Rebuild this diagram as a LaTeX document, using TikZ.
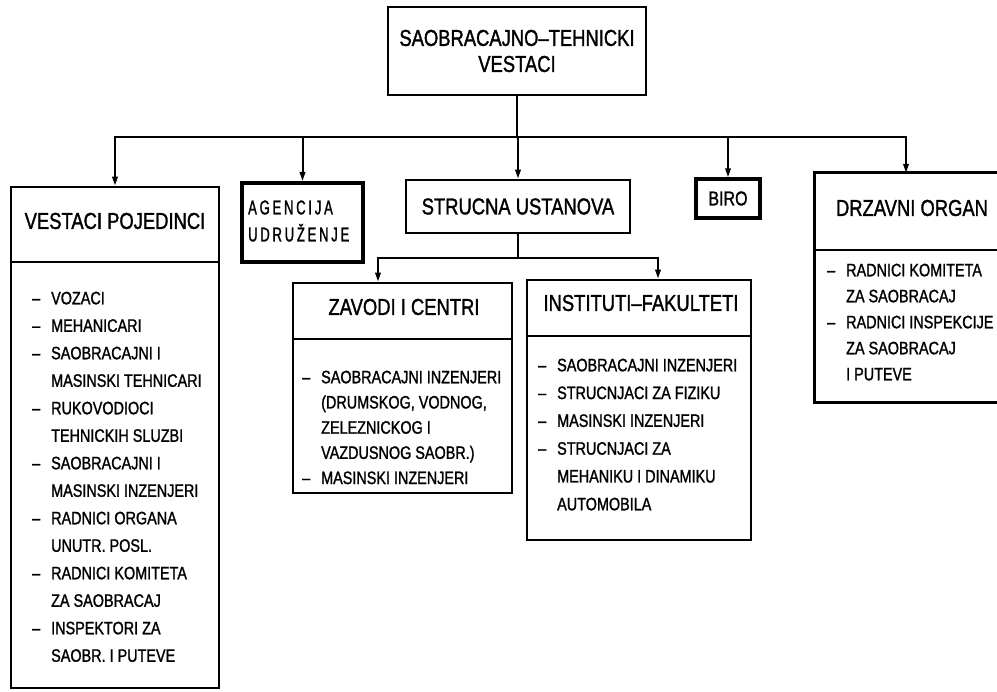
\documentclass[tikz,border=0pt]{standalone}
\usepackage{fontspec}
\setmainfont[FakeStretch=0.8,FakeBold=1.3]{Liberation Sans}
\newfontfamily\agfont[FakeStretch=0.65,LetterSpace=14,FakeBold=1.3]{Liberation Sans}
\usetikzlibrary{arrows.meta}
\newlength{\dashw}
\setlength{\dashw}{19pt}
\newcommand{\ditem}[1]{\makebox[\dashw][l]{–}#1}
\newcommand{\dcont}[1]{\hspace*{\dashw}#1}
\begin{document}
\begin{tikzpicture}[x=1pt,y=-1pt,
  box/.style={draw, line width=2.8pt, inner sep=0pt},
  boxline/.style={line width=2.8pt, line join=miter},
  hdr/.style={font=\fontsize{23}{26}\selectfont, inner sep=0pt, align=center},
  lst/.style={font=\fontsize{18}{27.5}\selectfont, inner sep=0pt, align=left, anchor=north west},
  conn/.style={line width=2pt, line cap=rect},
  arr/.style={line width=2pt, -{Triangle[length=9pt,width=5.5pt]}},
  divline/.style={line width=2.6pt}]
\clip (0,0) rectangle (997,692);
\fill[white] (0,0) rectangle (997,692);

% top box
\node[box, hdr, minimum width=258pt, minimum height=88pt] (top) at (517,51) {SAOBRACAJNO–TEHNICKI\\VESTACI};

% first level boxes
\node[box, minimum width=208pt, minimum height=501pt] (vp) at (115,437.5) {};
\node[box, line width=4pt, minimum width=121pt, minimum height=79pt] (ag) at (302.5,222.5) {};
\node[box, hdr, minimum width=224pt, minimum height=53pt] (su) at (518,206.5) {STRUCNA USTANOVA};
\node[box, line width=3.4pt, minimum width=64pt, minimum height=39pt, font=\fontsize{20}{24}\selectfont] (biro) at (728,198.5) {BIRO};
\node[inner sep=0pt, minimum width=182pt, minimum height=229pt] (dz) at (906,287.5) {};
\draw[boxline] (dz.north east) -- (dz.north west) -- (dz.south west) -- (dz.south east);

% second level boxes
\node[box, minimum width=219pt, minimum height=210pt] (zc) at (402.5,388) {};
\node[box, minimum width=224pt, minimum height=260pt] (inst) at (639,410) {};

% dividers
\coordinate (vpd) at (0,262);
\coordinate (dzd) at (0,250);
\coordinate (zcd) at (0,339);
\coordinate (ind) at (0,336);
\draw[divline] (vp.west |- vpd) -- (vp.east |- vpd);
\draw[divline] (dz.west |- dzd) -- (dz.east |- dzd);
\draw[divline] (zc.west |- zcd) -- (zc.east |- zcd);
\draw[divline] (inst.west |- ind) -- (inst.east |- ind);

% headers
\node[hdr] (vph) at (115,221) {VESTACI POJEDINCI};
\node[inner sep=0pt, anchor=west, align=left, font=\agfont\fontsize{20}{27}\selectfont] (agt) at (248,221) {AGENCIJA\\UDRUŽENJE};
\node[hdr] (dzh) at (912,208) {DRZAVNI ORGAN};
\node[hdr] (zch) at (404,307) {ZAVODI I CENTRI};
\node[hdr] (inh) at (641,303) {INSTITUTI–FAKULTETI};

% lists
\node[lst] (vpl) at (32,291.5) {\ditem{VOZACI}\\ \ditem{MEHANICARI}\\ \ditem{SAOBRACAJNI I}\\ \dcont{MASINSKI TEHNICARI}\\ \ditem{RUKOVODIOCI}\\ \dcont{TEHNICKIH SLUZBI}\\ \ditem{SAOBRACAJNI I}\\ \dcont{MASINSKI INZENJERI}\\ \ditem{RADNICI ORGANA}\\ \dcont{UNUTR. POSL.}\\ \ditem{RADNICI KOMITETA}\\ \dcont{ZA SAOBRACAJ}\\ \ditem{INSPEKTORI ZA}\\ \dcont{SAOBR. I PUTEVE}};
\node[lst, font=\fontsize{18}{25.2}\selectfont] (zcl) at (302,370.5) {\ditem{SAOBRACAJNI INZENJERI}\\ \dcont{(DRUMSKOG, VODNOG,}\\ \dcont{ZELEZNICKOG I}\\ \dcont{VAZDUSNOG SAOBR.)}\\ \ditem{MASINSKI INZENJERI}};
\node[lst, font=\fontsize{18}{27.8}\selectfont] (inl) at (538,358.5) {\ditem{SAOBRACAJNI INZENJERI}\\ \ditem{STRUCNJACI ZA FIZIKU}\\ \ditem{MASINSKI INZENJERI}\\ \ditem{STRUCNJACI ZA}\\ \dcont{MEHANIKU I DINAMIKU}\\ \dcont{AUTOMOBILA}};
\node[lst, font=\fontsize{18}{26}\selectfont] (dzl) at (827,263.5) {\ditem{RADNICI KOMITETA}\\ \dcont{ZA SAOBRACAJ}\\ \ditem{RADNICI INSPEKCIJE}\\ \dcont{ZA SAOBRACAJ}\\ \dcont{I PUTEVE}};

% connectors
\coordinate (busL) at (115,137);
\coordinate (busR) at (906,137);
\draw[conn] (top.south) -- (top.south |- busL);
\draw[conn] (busL) -- (busR);
\draw[arr] (vp.north |- busL) -- (vp.north);
\draw[arr] (ag.north |- busL) -- (ag.north);
\draw[arr] (su.north |- busL) -- (su.north);
\draw[arr] (biro.north |- busL) -- (biro.north);
\draw[arr] (dz.north |- busL) -- (dz.north);

\coordinate (sbL) at (378,258);
\coordinate (sbR) at (658,258);
\draw[conn] (su.south) -- (su.south |- sbL);
\draw[conn] (sbL) -- (sbR);
\draw[arr] (sbL) -- (zc.north -| sbL);
\draw[arr] (sbR) -- (inst.north -| sbR);
\end{tikzpicture}
\end{document}
